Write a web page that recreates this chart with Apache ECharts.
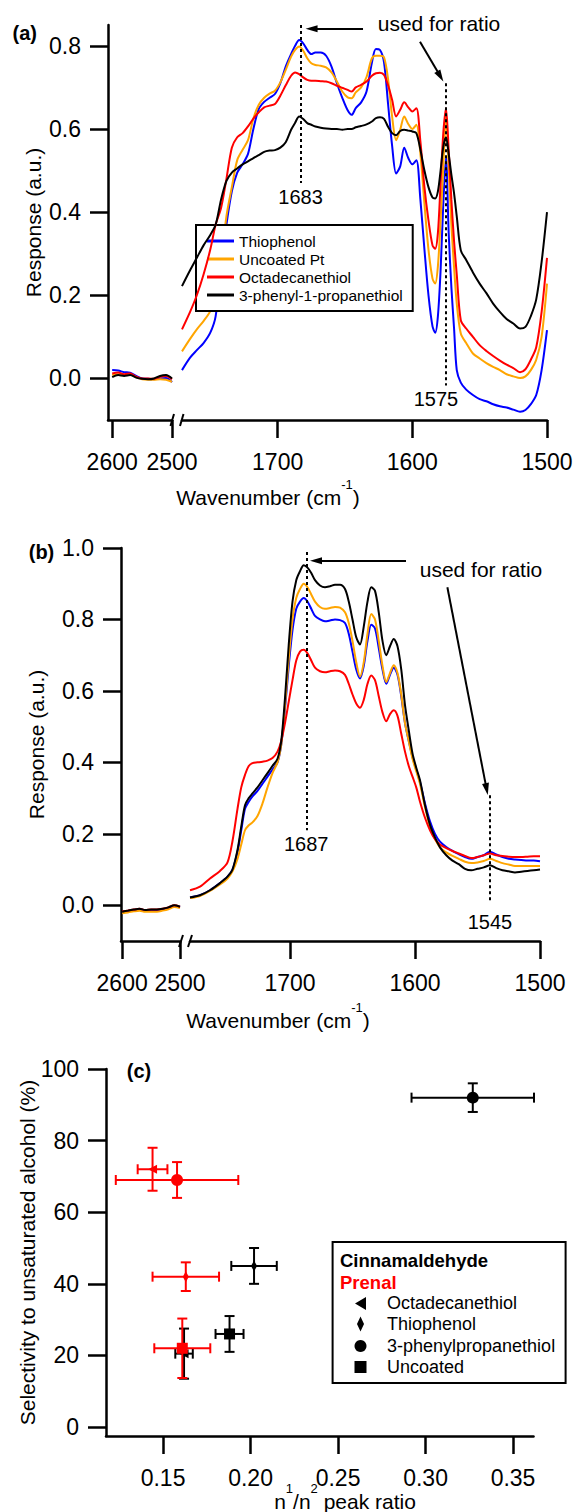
<!DOCTYPE html>
<html>
<head>
<meta charset="utf-8">
<script src="https://cdn.jsdelivr.net/npm/echarts@6/dist/echarts.min.js"></script>
<style>
html, body { margin: 0; padding: 0; background: #fff; }
#chart { width: 575px; height: 1512px; }
</style>
</head>
<body>
<div id="chart"></div>
<script>
// ---- panel (a) ----
var aWaveLeft = [2600, 2590, 2580, 2570, 2560, 2550, 2540, 2530, 2520, 2510, 2500];
var aThioLeft = [0.02, 0.019, 0.015, 0.014, 0.006, 0.0, -0.001, -0.002, 0.0, 0.001, -0.009];
var aPtLeft = [0.008, 0.01, 0.008, 0.009, 0.003, -0.002, -0.003, -0.003, -0.002, -0.003, -0.008];
var aOctaLeft = [0.012, 0.014, 0.01, 0.012, 0.004, 0.0, 0.0, -0.001, 0.004, 0.006, -0.002];
var aPhenLeft = [0.003, 0.008, 0.006, 0.008, 0.002, -0.001, -0.002, 0.0, 0.006, 0.008, 0.0];

var aWaveRight = [1771, 1765, 1760, 1755, 1750, 1746, 1742, 1738, 1734, 1730, 1726, 1722, 1718, 1714, 1710,
    1706, 1702, 1698, 1694, 1690, 1687, 1684, 1681, 1678, 1675, 1672, 1668, 1664, 1660, 1656,
    1652, 1648, 1645, 1642, 1638, 1634, 1630, 1627, 1624, 1621, 1618, 1615, 1612, 1609, 1606,
    1603, 1600, 1597, 1594, 1591, 1588, 1585, 1583, 1581, 1579, 1577, 1575, 1573, 1571, 1569,
    1567, 1564, 1560, 1555, 1550, 1545, 1540, 1535, 1530, 1525, 1520, 1516, 1512, 1508, 1504, 1500];
var aThioRight = [0.02, 0.05, 0.068, 0.085, 0.11, 0.15, 0.27, 0.37, 0.45, 0.495, 0.515, 0.54, 0.60, 0.648, 0.665,
    0.675, 0.684, 0.71, 0.75, 0.78, 0.80, 0.814, 0.806, 0.79, 0.78, 0.784, 0.784, 0.776, 0.75, 0.71,
    0.675, 0.645, 0.634, 0.65, 0.664, 0.69, 0.76, 0.792, 0.79, 0.76, 0.66, 0.56, 0.493, 0.51, 0.555,
    0.53, 0.515, 0.525, 0.43, 0.31, 0.20, 0.125, 0.11, 0.15, 0.26, 0.42, 0.533, 0.35, 0.22, 0.12,
    0.02, -0.01, -0.027, -0.04, -0.05, -0.055, -0.062, -0.067, -0.07, -0.075, -0.08, -0.076, -0.062, -0.04, 0.02, 0.116];
var aPtRight = [0.065, 0.095, 0.118, 0.138, 0.162, 0.20, 0.28, 0.39, 0.46, 0.525, 0.55, 0.573, 0.625, 0.658, 0.675,
    0.685, 0.692, 0.712, 0.742, 0.774, 0.79, 0.798, 0.788, 0.77, 0.758, 0.754, 0.752, 0.748, 0.736, 0.714,
    0.69, 0.676, 0.674, 0.688, 0.70, 0.725, 0.77, 0.776, 0.776, 0.772, 0.72, 0.63, 0.573, 0.598, 0.63,
    0.612, 0.60, 0.61, 0.54, 0.42, 0.31, 0.24, 0.228, 0.27, 0.38, 0.51, 0.63, 0.51, 0.37, 0.268,
    0.18, 0.108, 0.085, 0.06, 0.048, 0.037, 0.028, 0.02, 0.01, 0.005, 0.001, 0.005, 0.02, 0.045, 0.10, 0.228];
var aOctaRight = [0.118, 0.16, 0.20, 0.25, 0.31, 0.37, 0.41, 0.48, 0.555, 0.58, 0.59, 0.606, 0.625, 0.64, 0.652,
    0.656, 0.66, 0.68, 0.705, 0.728, 0.736, 0.732, 0.724, 0.718, 0.716, 0.716, 0.715, 0.714, 0.71, 0.704,
    0.699, 0.694, 0.69, 0.70, 0.706, 0.714, 0.728, 0.734, 0.735, 0.73, 0.705, 0.67, 0.63, 0.646, 0.664,
    0.652, 0.642, 0.65, 0.57, 0.46, 0.38, 0.32, 0.312, 0.35, 0.47, 0.59, 0.65, 0.55, 0.43, 0.33,
    0.25, 0.14, 0.12, 0.10, 0.08, 0.066, 0.054, 0.043, 0.033, 0.025, 0.015, 0.022, 0.045, 0.075, 0.16, 0.29];
var aPhenRight = [0.222, 0.26, 0.29, 0.32, 0.345, 0.37, 0.43, 0.475, 0.495, 0.505, 0.515, 0.522, 0.53, 0.537, 0.545,
    0.548, 0.549, 0.555, 0.568, 0.598, 0.615, 0.63, 0.624, 0.614, 0.61, 0.606, 0.603, 0.601, 0.60, 0.60,
    0.598, 0.60, 0.60, 0.604, 0.607, 0.611, 0.618, 0.626, 0.628, 0.624, 0.605, 0.59, 0.585, 0.595, 0.598,
    0.596, 0.594, 0.59, 0.55, 0.50, 0.46, 0.435, 0.433, 0.45, 0.50, 0.557, 0.58, 0.54, 0.49, 0.445,
    0.39, 0.308, 0.285, 0.255, 0.228, 0.205, 0.18, 0.16, 0.143, 0.132, 0.12, 0.124, 0.15, 0.19, 0.28, 0.40];

// ---- panel (b) ----
var bWaveLeft = [2600, 2590, 2580, 2570, 2560, 2550, 2540, 2530, 2520, 2510, 2500];
var bThioLeft = [-0.018, -0.016, -0.013, -0.011, -0.014, -0.013, -0.013, -0.011, -0.007, -0.001, -0.005];
var bPtLeft = [-0.022, -0.02, -0.017, -0.015, -0.018, -0.018, -0.018, -0.015, -0.011, -0.005, -0.008];
var bOctaLeft = [-0.017, -0.015, -0.012, -0.01, -0.013, -0.012, -0.012, -0.01, -0.006, 0.0, -0.004];
var bPhenLeft = [-0.018, -0.015, -0.012, -0.01, -0.013, -0.012, -0.012, -0.01, -0.006, 0.0, -0.004];

var bWaveRight = [1780, 1772, 1764, 1756, 1750, 1746, 1742, 1739, 1736, 1733, 1730, 1726, 1722, 1718, 1714,
    1710, 1707, 1704, 1701, 1698, 1695, 1692, 1689, 1686, 1683, 1680, 1676, 1672, 1668, 1664,
    1660, 1656, 1653, 1650, 1647, 1644, 1641, 1638, 1635, 1632, 1629, 1626, 1623, 1620, 1617,
    1614, 1611, 1608, 1605, 1602, 1599, 1596, 1592, 1588, 1584, 1580, 1575, 1570, 1565, 1560,
    1555, 1550, 1545, 1540, 1535, 1530, 1525, 1520, 1515, 1510, 1505, 1500];
var bThioRight = [0.022, 0.028, 0.042, 0.062, 0.08, 0.10, 0.15, 0.21, 0.27, 0.29, 0.305, 0.32, 0.34, 0.36, 0.38,
    0.40, 0.45, 0.55, 0.67, 0.77, 0.83, 0.85, 0.86, 0.85, 0.83, 0.81, 0.80, 0.795, 0.797, 0.80,
    0.798, 0.79, 0.76, 0.71, 0.66, 0.635, 0.67, 0.74, 0.785, 0.775, 0.72, 0.66, 0.62, 0.645, 0.665,
    0.645, 0.585, 0.51, 0.46, 0.415, 0.38, 0.345, 0.285, 0.235, 0.2, 0.178, 0.163, 0.152, 0.143, 0.135,
    0.13, 0.135, 0.14, 0.15, 0.142, 0.135, 0.13, 0.128, 0.127, 0.125, 0.125, 0.123];
var bPtRight = [0.02, 0.026, 0.04, 0.058, 0.075, 0.095, 0.13, 0.17, 0.21, 0.224, 0.232, 0.25, 0.285, 0.33, 0.37,
    0.40, 0.45, 0.56, 0.69, 0.80, 0.86, 0.885, 0.90, 0.89, 0.87, 0.85, 0.835, 0.83, 0.832, 0.835,
    0.833, 0.82, 0.79, 0.74, 0.68, 0.64, 0.68, 0.76, 0.815, 0.80, 0.74, 0.67, 0.625, 0.65, 0.672,
    0.65, 0.59, 0.51, 0.46, 0.41, 0.375, 0.34, 0.275, 0.22, 0.185, 0.162, 0.148, 0.138, 0.13, 0.122,
    0.118, 0.12, 0.124, 0.13, 0.124, 0.118, 0.114, 0.11, 0.11, 0.11, 0.11, 0.11];
var bOctaRight = [0.042, 0.052, 0.075, 0.096, 0.12, 0.18, 0.27, 0.33, 0.365, 0.39, 0.398, 0.40, 0.402, 0.405, 0.412,
    0.43, 0.46, 0.51, 0.57, 0.63, 0.685, 0.71, 0.715, 0.705, 0.685, 0.665, 0.655, 0.652, 0.655, 0.657,
    0.655, 0.645, 0.62, 0.59, 0.565, 0.553, 0.575, 0.62, 0.643, 0.63, 0.585, 0.54, 0.515, 0.535, 0.546,
    0.53, 0.48, 0.43, 0.39, 0.36, 0.33, 0.29, 0.245, 0.21, 0.185, 0.17, 0.16, 0.152, 0.145, 0.138,
    0.132, 0.135, 0.14, 0.145, 0.14, 0.138, 0.136, 0.135, 0.135, 0.136, 0.137, 0.137];
var bPhenRight = [0.022, 0.028, 0.042, 0.062, 0.08, 0.10, 0.155, 0.22, 0.28, 0.30, 0.313, 0.33, 0.35, 0.37, 0.39,
    0.41, 0.46, 0.58, 0.73, 0.85, 0.91, 0.935, 0.952, 0.945, 0.93, 0.91, 0.895, 0.89, 0.893, 0.897,
    0.897, 0.885, 0.85, 0.80, 0.75, 0.73, 0.78, 0.85, 0.89, 0.88, 0.82, 0.74, 0.70, 0.725, 0.745,
    0.725, 0.66, 0.56, 0.49, 0.425, 0.385, 0.35, 0.28, 0.225, 0.19, 0.162, 0.14, 0.125, 0.115, 0.102,
    0.098, 0.102, 0.106, 0.112, 0.104, 0.098, 0.095, 0.092, 0.094, 0.096, 0.098, 0.1];

// ---- panel (c) ----  order: Octadecanethiol, Thiophenol, 3-phenylpropanethiol, Uncoated
var cCoatings = ['Octadecanethiol', 'Thiophenol', '3-phenylpropanethiol', 'Uncoated'];
var cCinnRatio = [0.162, 0.202, 0.327, 0.188];
var cCinnRatioErr = [0.005, 0.013, 0.035, 0.008];
var cCinnSel = [20.5, 45, 92, 26];
var cCinnSelErr = [7, 5, 4, 5];
var cPrenRatio = [0.144, 0.163, 0.158, 0.161];
var cPrenRatioErr = [0.0085, 0.019, 0.035, 0.016];
var cPrenSel = [72, 42, 69, 22];
var cPrenSelErr = [6, 4, 5, 8.3];

var names = ['Thiophenol', 'Uncoated Pt', 'Octadecanethiol', '3-phenyl-1-propanethiol'];
var colors = ['#0000ff', '#ffa500', '#ff0000', '#000000'];

var FONT = "'Liberation Sans', Arial, sans-serif";

function zip(w, v) {
    return w.map(function (x, i) { return [x, v[i]]; });
}

function lineSeries(idx, axis, waves, values, markLine) {
    var s = {
        name: names[idx],
        type: 'line',
        xAxisIndex: axis,
        yAxisIndex: axis,
        data: zip(waves, values),
        showSymbol: false,
        symbol: 'none',
        smooth: 0.3,
        lineStyle: {color: colors[idx], width: 2},
        itemStyle: {color: colors[idx]},
        silent: true,
        z: 2 + idx
    };
    if (markLine) s.markLine = markLine;
    return s;
}

function dotted(x, y1, y2, text, pad) {
    return [
        {coord: [x, y1], name: text, symbol: 'none',
            lineStyle: {type: [3, 3], width: 2, color: '#000'},
            label: {show: true, position: 'end', formatter: '{b}', fontSize: 20, fontFamily: FONT, color: '#000', distance: 4, padding: pad || 0}},
        {coord: [x, y2], symbol: 'none'}
    ];
}

function arrow(x1, y1, x2, y2) {
    return [
        {coord: [x1, y1], symbol: 'none', lineStyle: {type: 'solid', width: 2, color: '#000'}, label: {show: false}},
        {coord: [x2, y2], symbol: 'triangle', symbolSize: [7, 12]}
    ];
}

function tick(values) {
    return {show: true, length: 18, inside: false, customValues: values, lineStyle: {color: '#000', width: 2.5}};
}
function label(values, margin, fmt) {
    return {show: true, customValues: values, margin: margin, fontSize: 23, color: '#000', fontFamily: FONT,
        formatter: fmt || function (v) { return String(v); }};
}
var axisLine = {show: true, onZero: false, lineStyle: {color: '#000', width: 2.5}};
var noSplit = {show: false};
var fix1 = function (v) { return v.toFixed(1); };
var fix2 = function (v) { return v.toFixed(2); };

function xAxis(grid, min, max, ticks, fmt) {
    return {type: 'value', gridIndex: grid, inverse: grid < 4, min: min, max: max,
        axisLine: axisLine, axisTick: tick(ticks), axisLabel: label(ticks, 30, fmt), splitLine: noSplit};
}
function yAxis(grid, min, max, ticks, fmt, name, gap) {
    if (!ticks) return {type: 'value', gridIndex: grid, min: min, max: max, show: false};
    return {type: 'value', gridIndex: grid, min: min, max: max,
        axisLine: axisLine, axisTick: tick(ticks), axisLabel: label(ticks, 27, fmt), splitLine: noSplit,
        name: name, nameLocation: 'middle', nameGap: gap, nameMoveOverlap: false,
        nameTextStyle: {fontSize: 21, color: '#000', fontFamily: FONT}};
}

function errorBars(color) {
    return function (params, api) {
        var x = api.value(0), y = api.value(1), ex = api.value(2), ey = api.value(3);
        var l = api.coord([x - ex, y]), r = api.coord([x + ex, y]);
        var t = api.coord([x, y + ey]), b = api.coord([x, y - ey]);
        var cap = 5;
        var st = {stroke: color, lineWidth: 2};
        function seg(x1, y1, x2, y2) {
            return {type: 'line', shape: {x1: x1, y1: y1, x2: x2, y2: y2}, style: st};
        }
        return {type: 'group', children: [
            seg(l[0], l[1], r[0], r[1]),
            seg(l[0], l[1] - cap, l[0], l[1] + cap),
            seg(r[0], r[1] - cap, r[0], r[1] + cap),
            seg(t[0], t[1], b[0], b[1]),
            seg(t[0] - cap, t[1], t[0] + cap, t[1]),
            seg(b[0] - cap, b[1], b[0] + cap, b[1])
        ]};
    };
}

var markerShape = ['triangle', 'diamond', 'circle', 'rect'];
var markerSize = [[9, 9], [6, 11], 12, 11];
var markerRotate = [90, 0, 0, 0];

function cSeries(group, color, ratio, ratioErr, sel, selErr, z) {
    return [{
        name: group + ' error', type: 'custom', xAxisIndex: 4, yAxisIndex: 4, z: z, silent: true,
        renderItem: errorBars(color),
        encode: {x: 0, y: 1},
        data: ratio.map(function (x, i) { return [x, sel[i], ratioErr[i], selErr[i]]; })
    }, {
        name: group, type: 'scatter', xAxisIndex: 4, yAxisIndex: 4, z: z + 1, silent: true,
        itemStyle: {color: color, opacity: 1},
        data: ratio.map(function (x, i) {
            return {value: [x, sel[i]], name: cCoatings[i], symbol: markerShape[i], symbolSize: markerSize[i], symbolRotate: markerRotate[i]};
        })
    }];
}

// text with superscripts, laid out piece by piece around a centre point
var measureCtx = document.createElement('canvas').getContext('2d');
function supText(cx, cy, parts) {
    var main = 21, sup = 13;
    var widths = parts.map(function (p) {
        measureCtx.font = (p[1] ? sup : main) + "px 'Liberation Sans', Arial, sans-serif";
        return measureCtx.measureText(p[0]).width;
    });
    var total = widths.reduce(function (a, b) { return a + b; }, 0);
    var x = cx - total / 2;
    return parts.map(function (p, i) {
        var el = {type: 'text', x: x, y: p[1] ? cy - 13 : cy, z: 100, silent: true,
            style: {text: p[0], fontSize: p[1] ? sup : main, fontFamily: FONT, fill: '#000', align: 'left', verticalAlign: 'middle'}};
        x += widths[i];
        return el;
    });
}
function plainText(x, y, text, size, weight, color, align) {
    return {type: 'text', x: x, y: y, z: 100, silent: true,
        style: {text: text, fontSize: size, fontWeight: weight || 'normal', fontFamily: FONT,
            fill: color || '#000', align: align || 'center', verticalAlign: 'middle'}};
}
function seg(x1, y1, x2, y2) {
    return {type: 'line', z: 100, silent: true, shape: {x1: x1, y1: y1, x2: x2, y2: y2}, style: {stroke: '#000', lineWidth: 2}};
}

var aMarks = {silent: true, symbol: ['none', 'none'], data: [
    dotted(1683, 0.85, 0.47, '1683'),
    dotted(1575, 0.71, -0.017, '1575', [0, 20, 0, 0]),
    arrow(1636.6, 0.841, 1674.8, 0.841),
    arrow(1594.3, 0.81, 1579.2, 0.7265)
]};
var bMarks = {silent: true, symbol: ['none', 'none'], data: [
    dotted(1687, 0.989, 0.21, '1687'),
    dotted(1540, 0.308, 0.008, '1545', [6, 0, 0, 0]),
    arrow(1607.2, 0.964, 1679.2, 0.964),
    arrow(1574.1, 0.89, 1542.7, 0.325)
]};

var series = [];
var aLeft = [aThioLeft, aPtLeft, aOctaLeft, aPhenLeft];
var aRight = [aThioRight, aPtRight, aOctaRight, aPhenRight];
var bLeft = [bThioLeft, bPtLeft, bOctaLeft, bPhenLeft];
var bRight = [bThioRight, bPtRight, bOctaRight, bPhenRight];
for (var i = 0; i < 4; i++) {
    series.push(lineSeries(i, 0, aWaveLeft, aLeft[i]));
    series.push(lineSeries(i, 1, aWaveRight, aRight[i], i === 3 ? aMarks : null));
    series.push(lineSeries(i, 2, bWaveLeft, bLeft[i]));
    series.push(lineSeries(i, 3, bWaveRight, bRight[i], i === 3 ? bMarks : null));
}
series = series.concat(cSeries('Cinnamaldehyde', '#000', cCinnRatio, cCinnRatioErr, cCinnSel, cCinnSelErr, 10));
series = series.concat(cSeries('Prenal', '#ff0000', cPrenRatio, cPrenRatioErr, cPrenSel, cPrenSelErr, 12));

var graphics = [
    plainText(24.7, 32.5, '(a)', 20, 'bold'),
    plainText(41.5, 552, '(b)', 20, 'bold'),
    plainText(139, 1071, '(c)', 20, 'bold'),
    plainText(439, 23.5, 'used for ratio', 21),
    plainText(481, 569, 'used for ratio', 21),
    // axis breaks
    seg(170.5, 426, 174, 414), seg(180, 426, 183.5, 414),
    seg(179, 947, 183, 935), seg(188, 947, 192, 935),
    // legend of panel (c)
    {type: 'rect', z: 90, silent: true, shape: {x: 332.6, y: 1242, width: 233, height: 141},
        style: {fill: '#fff', stroke: '#000', lineWidth: 2}},
    plainText(340, 1260, 'Cinnamaldehyde', 18.5, 'bold', '#000', 'left'),
    plainText(340, 1282, 'Prenal', 18.5, 'bold', '#ff0000', 'left'),
    {type: 'polygon', z: 100, silent: true, shape: {points: [[366, 1297], [366, 1310], [355, 1303.5]]}, style: {fill: '#000'}},
    {type: 'polygon', z: 100, silent: true, shape: {points: [[360.5, 1316.5], [364, 1324], [360.5, 1331.5], [357, 1324]]}, style: {fill: '#000'}},
    {type: 'circle', z: 100, silent: true, shape: {cx: 360.5, cy: 1346, r: 6}, style: {fill: '#000'}},
    {type: 'rect', z: 100, silent: true, shape: {x: 354.5, y: 1361, width: 12, height: 12}, style: {fill: '#000'}},
    plainText(387, 1303, cCoatings[0], 18, 'normal', '#000', 'left'),
    plainText(387, 1324, cCoatings[1], 18, 'normal', '#000', 'left'),
    plainText(387, 1346, cCoatings[2], 18, 'normal', '#000', 'left'),
    plainText(387, 1367, cCoatings[3], 18, 'normal', '#000', 'left')
];
graphics = graphics
    .concat(supText(268, 497, [['Wavenumber (cm', false], ['-1', true], [')', false]]))
    .concat(supText(278, 1020, [['Wavenumber (cm', false], ['-1', true], [')', false]]))
    .concat(supText(345, 1501, [['n', false], ['1', true], ['/n', false], ['2', true], [' peak ratio', false]]));

var option = {
    animation: false,
    backgroundColor: '#fff',
    textStyle: {fontFamily: FONT},
    grid: [
        {left: 108, top: 25, width: 64, height: 395, outerBoundsMode: 'none'},
        {left: 182, top: 25, width: 365, height: 395, outerBoundsMode: 'none'},
        {left: 121, top: 548, width: 59, height: 393, outerBoundsMode: 'none'},
        {left: 190, top: 548, width: 350, height: 393, outerBoundsMode: 'none'},
        {left: 106, top: 1069, width: 427.5, height: 367, outerBoundsMode: 'none'}
    ],
    xAxis: [
        xAxis(0, 2500, 2607, [2600, 2500]),
        xAxis(1, 1500, 1771, [1700, 1600, 1500]),
        xAxis(2, 2500, 2602, [2600, 2500]),
        xAxis(3, 1500, 1780, [1700, 1600, 1500]),
        xAxis(4, 0.1174, 0.3617, [0.15, 0.20, 0.25, 0.30, 0.35], fix2)
    ],
    yAxis: [
        yAxis(0, -0.1, 0.85, [0, 0.2, 0.4, 0.6, 0.8], fix1, 'Response (a.u.)', 64),
        yAxis(1, -0.1, 0.85),
        yAxis(2, -0.1, 1.0, [0, 0.2, 0.4, 0.6, 0.8, 1.0], fix1, 'Response (a.u.)', 74),
        yAxis(3, -0.1, 1.0),
        yAxis(4, -2.5, 100, [0, 20, 40, 60, 80, 100], null, 'Selectivity to unsaturated alcohol (%)', 68)
    ],
    legend: {
        data: names, orient: 'vertical', left: 196, top: 225,
        padding: [7, 10, 7, 11], itemGap: 0, itemWidth: 27, itemHeight: 3, itemTextGap: 8, icon: 'rect',
        borderColor: '#000', borderWidth: 2, borderRadius: 0, backgroundColor: '#fff',
        selectedMode: false,
        textStyle: {fontSize: 15.5, lineHeight: 18, color: '#000', fontFamily: FONT}
    },
    series: series,
    graphic: graphics
};

var chart = echarts.init(document.getElementById('chart'), null, {renderer: 'svg'});
chart.setOption(option);
</script>
</body>
</html>
